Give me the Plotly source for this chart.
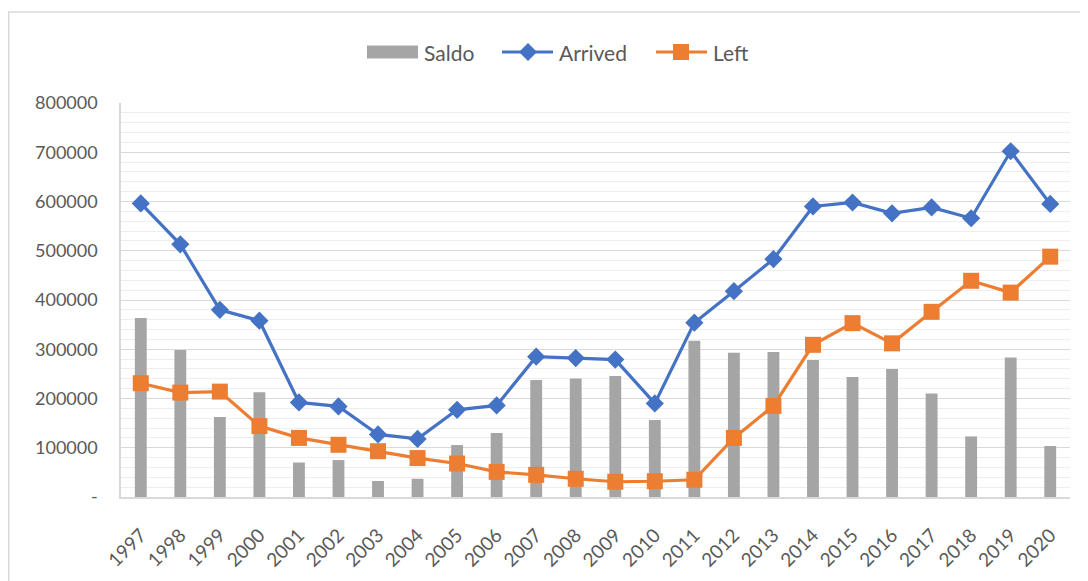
import plotly.graph_objects as go

years = [str(y) for y in range(1997, 2021)]
arrived = [596000, 513000, 380000, 358000, 192000, 184000, 127000, 118000, 177000, 186000,
           285000, 282000, 279000, 190000, 354000, 418000, 483000, 590000, 598000, 576000,
           588000, 566000, 702000, 595000]
left = [231000, 212000, 214000, 144000, 120000, 106000, 93000, 79000, 68000, 51000,
        45000, 37000, 31000, 32000, 35000, 120000, 185000, 309000, 353000, 312000,
        376000, 439000, 415000, 488000]
saldo = [363500, 298500, 162500, 212500, 70000, 75000, 32500, 37000, 105500, 130000,
         237500, 240500, 245500, 156500, 317500, 293000, 294500, 278000, 243500, 260000,
         210000, 123000, 283000, 103500]
y_ticks = [0, 100000, 200000, 300000, 400000, 500000, 600000, 700000, 800000]
y_labels = ["-", "100000", "200000", "300000", "400000", "500000", "600000", "700000", "800000"]

GRAY, BLUE, ORANGE = "#A5A5A5", "#4472C4", "#ED7D31"

# figure is placed at (8, 8) inside the page by the default body margin
W, H = 1080, 573
L, R, T, B = 113, 18, 95, 84
pw, ph = W - L - R, H - T - B

def px_x(p):
    return (p - L) / pw

def px_y(p):
    return (H - B - p) / ph

fig = go.Figure()
fig.add_trace(go.Bar(x=years, y=saldo, name="Saldo", showlegend=False,
                     marker=dict(color=GRAY, line=dict(width=0))))
fig.add_trace(go.Scatter(x=years, y=arrived, name="Arrived", mode="lines+markers", showlegend=False,
                         line=dict(color=BLUE, width=3.2),
                         marker=dict(symbol="diamond", size=14, color=BLUE)))
fig.add_trace(go.Scatter(x=years, y=left, name="Left", mode="lines+markers", showlegend=False,
                         line=dict(color=ORANGE, width=3.2),
                         marker=dict(symbol="square", size=16, color=ORANGE)))

shapes = []
# outer chart border
shapes.append(dict(type="rect", xref="paper", yref="paper",
                   x0=px_x(0.75), x1=px_x(1100), y0=px_y(600), y1=px_y(4),
                   line=dict(color="#D9D9D9", width=1.5), fillcolor="rgba(0,0,0,0)", layer="below"))

# legend drawn by hand (wide swatches like the original)
ly = 44
shapes.append(dict(type="rect", xref="paper", yref="paper",
                   x0=px_x(359), x1=px_x(410), y0=px_y(ly + 6.5), y1=px_y(ly - 6.5),
                   line=dict(width=0), fillcolor=GRAY))
shapes.append(dict(type="line", xref="paper", yref="paper",
                   x0=px_x(494), x1=px_x(545), y0=px_y(ly), y1=px_y(ly),
                   line=dict(color=BLUE, width=3.2)))
cx = 520
shapes.append(dict(type="path", xref="paper", yref="paper",
                   path=(f"M{px_x(cx - 9)},{px_y(ly)} L{px_x(cx)},{px_y(ly - 9)} "
                         f"L{px_x(cx + 9)},{px_y(ly)} L{px_x(cx)},{px_y(ly + 9)} Z"),
                   line=dict(width=0), fillcolor=BLUE))
shapes.append(dict(type="line", xref="paper", yref="paper",
                   x0=px_x(648), x1=px_x(699), y0=px_y(ly), y1=px_y(ly),
                   line=dict(color=ORANGE, width=3.2)))
cx = 673
shapes.append(dict(type="rect", xref="paper", yref="paper",
                   x0=px_x(cx - 8), x1=px_x(cx + 8), y0=px_y(ly + 8), y1=px_y(ly - 8),
                   line=dict(width=0), fillcolor=ORANGE))

annotations = []
for label, x0 in [("Saldo", 414), ("Arrived", 549), ("Left", 703)]:
    annotations.append(dict(text=label, xref="paper", yref="paper", x=px_x(x0), y=px_y(ly + 1),
                            xanchor="left", yanchor="middle", showarrow=False,
                            font=dict(size=21, color="#595959")))

fig.update_layout(
    width=W, height=H,
    margin=dict(l=L, r=R, t=T, b=B, autoexpand=False),
    paper_bgcolor="white", plot_bgcolor="white",
    font=dict(family="Lato, Noto Sans, sans-serif", size=15, color="#595959"),
    bargap=0.7,
    showlegend=False,
    shapes=shapes,
    annotations=annotations,
    xaxis=dict(type="category", tickangle=-45, showgrid=False, showline=True,
               linecolor="#D9D9D9", linewidth=1.5, ticks="", tickfont=dict(size=19),
               ticklabelstandoff=18,
               automargin=False, range=[-0.5, len(years) - 0.5]),
    yaxis=dict(range=[0, 800000], tickvals=y_ticks, ticktext=y_labels,
               showgrid=True, gridcolor="#D9D9D9", gridwidth=1,
               minor=dict(dtick=20000, showgrid=True, gridcolor="#EEEEEE", gridwidth=1),
               showline=True, linecolor="#D9D9D9", linewidth=1.5, automargin=False,
               zeroline=False, ticks="", ticklen=0, tickfont=dict(size=18),
               ticklabelstandoff=18),
)

fig.write_html("out.html")
